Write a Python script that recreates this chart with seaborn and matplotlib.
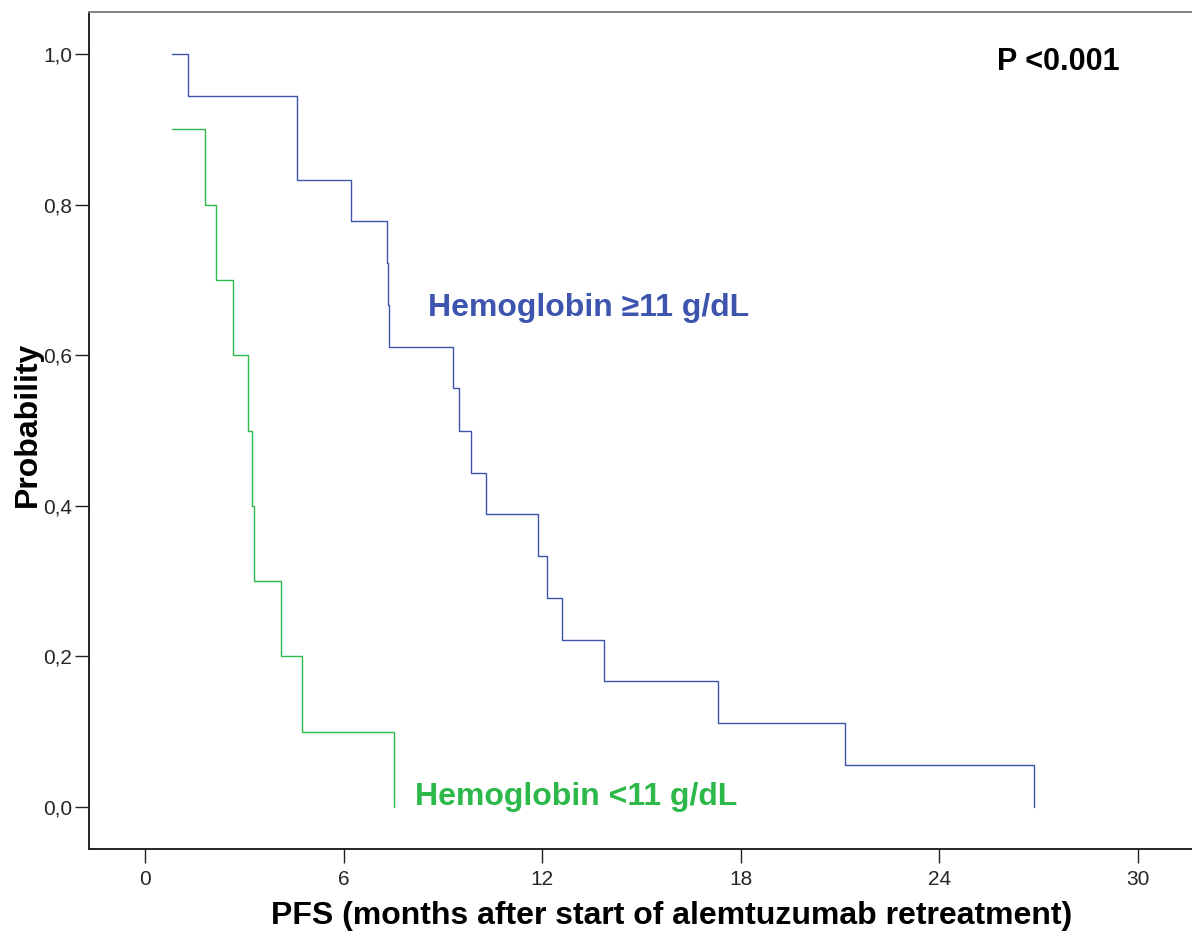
import numpy as np
import pandas as pd
import matplotlib
matplotlib.use('Agg')
import matplotlib.pyplot as plt
import seaborn as sns

# Kaplan-Meier step values
hi_times = [0.82, 1.29, 4.60, 6.23, 7.32, 7.35, 7.38, 9.30, 9.50, 9.85,
            10.31, 11.88, 12.15, 12.60, 13.86, 17.30, 21.14, 26.86]
hi_surv = [1.000, 0.944, 0.833, 0.778, 0.722, 0.667, 0.611, 0.556, 0.500, 0.444,
           0.389, 0.333, 0.278, 0.222, 0.167, 0.111, 0.056, 0.000]
lo_times = [0.82, 1.81, 2.14, 2.67, 3.12, 3.22, 3.29, 4.12, 4.73, 7.53]
lo_surv = [0.9, 0.8, 0.7, 0.6, 0.5, 0.4, 0.3, 0.2, 0.1, 0.0]

groups = ['Hemoglobin ≥11 g/dL', 'Hemoglobin <11 g/dL']
colors = ['#3d55ae', '#2db84a']
xticks = [0, 6, 12, 18, 24, 30]
yticks = [0.0, 0.2, 0.4, 0.6, 0.8, 1.0]
ytick_labels = ['0,0', '0,2', '0,4', '0,6', '0,8', '1,0']

df = pd.concat([
    pd.DataFrame({'time': hi_times, 'surv': hi_surv, 'group': groups[0]}),
    pd.DataFrame({'time': lo_times, 'surv': lo_surv, 'group': groups[1]}),
], ignore_index=True)

sns.set_theme(style='white')
plt.rcParams['font.family'] = ['Liberation Sans', 'DejaVu Sans']

fig = plt.figure(figsize=(11.92, 9.33), dpi=100)
ax = fig.add_axes([89 / 1192, 84 / 933, 1 - 89 / 1192, 837 / 933])

sns.lineplot(data=df, x='time', y='surv', hue='group', palette=colors,
             estimator=None, sort=False, drawstyle='steps-post',
             linewidth=1.0, legend=False, ax=ax)

ax.set_xlim(-1.69, 31.63)
ax.set_ylim(-0.0558, 1.056)
ax.set_xticks(xticks)
ax.set_xticklabels([str(t) for t in xticks])
ax.set_yticks(yticks)
ax.set_yticklabels(ytick_labels)
ax.tick_params(axis='both', which='major', labelsize=15, color='#222222',
               length=10, width=1.0, bottom=True, left=True)
ax.tick_params(axis='x', pad=5)
ax.tick_params(axis='y', pad=2)

for side in ['left', 'bottom']:
    ax.spines[side].set_color('#222222')
    ax.spines[side].set_linewidth(1.4)
ax.spines['top'].set_color('#808080')
ax.spines['top'].set_linewidth(1.4)
ax.spines['right'].set_visible(False)

ax.set_xlabel('PFS (months after start of alemtuzumab retreatment)',
              fontsize=23, fontweight='bold', color='black')
ax.set_ylabel('Probability', fontsize=23, fontweight='bold', color='black')
ax.xaxis.set_label_coords(0.5286, -0.062)
ax.yaxis.set_label_coords(-0.0553, 0.507)
ax.yaxis.label.set_va('center')

ax.text(8.55, 0.663, groups[0], color=colors[0], fontsize=23,
        fontweight='bold', va='center', ha='left')
ax.text(8.16, 0.013, groups[1], color=colors[1], fontsize=23,
        fontweight='bold', va='center', ha='left')
ax.text(25.74, 0.989, 'P <0.001', color='black', fontsize=22,
        fontweight='bold', va='center', ha='left')

fig.savefig('out.png', dpi=100)
